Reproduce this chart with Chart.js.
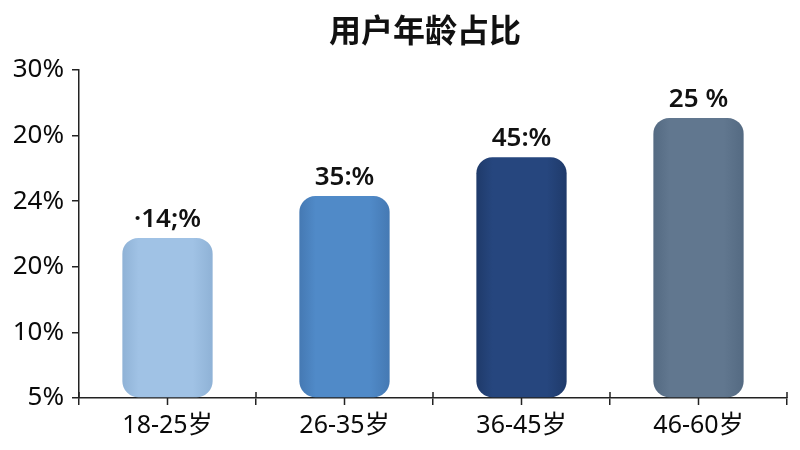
<!DOCTYPE html>
<html lang="zh">
<head>
    <meta charset="UTF-8">
    <title>用户年龄占比</title>
    <script src="https://cdn.jsdelivr.net/npm/chart.js@4/dist/chart.umd.min.js"></script>
    <style>
        html, body {margin: 0; padding: 0; background: #fff}
        #wrap {width: 800px; height: 450px}
    </style>
</head>
<body>
<div id="wrap"><canvas id="chart"></canvas></div>
<script>
    // data (bar heights in axis steps, labels as printed)
    const categories = ['18-25岁', '26-35岁', '36-45岁', '46-60岁'];
    const barHeights = [2.44, 3.08, 3.67, 4.27];
    const barLabels = ['·14;%', '35:%', '45:%', '25 %'];
    const yTickLabels = ['5%', '10%', '20%', '24%', '20%', '30%'];
    const barColors = ['#a0c2e5', '#508ac8', '#26467e', '#61778f'];
    const barEdges = ['#8fb2d6', '#4579b3', '#1f3a6a', '#546a82'];

    const FONT = '"Noto Sans", "Noto Sans CJK SC", sans-serif';
    const AXIS = '#222';

    function barFill(ctx) {
        const chart = ctx.chart;
        const i = ctx.dataIndex;
        if (!chart.chartArea || i === undefined) return barColors[i || 0];
        const x = chart.scales.x;
        const cx = x.getPixelForValue(i);
        const half = (x.right - x.left) / categories.length * 0.51 / 2;
        const g = chart.ctx.createLinearGradient(cx - half, 0, cx + half, 0);
        g.addColorStop(0, barEdges[i]);
        g.addColorStop(0.18, barColors[i]);
        g.addColorStop(0.78, barColors[i]);
        g.addColorStop(1, barEdges[i]);
        return g;
    }

    // title, centred a little right of the canvas middle
    const titlePlugin = {
        id: 'titleText',
        afterDraw(chart) {
            const c = chart.ctx;
            c.save();
            c.font = '600 32px "Noto Sans CJK SC", sans-serif';
            c.fillStyle = '#111';
            c.textAlign = 'center';
            c.textBaseline = 'middle';
            c.fillText('用户年龄占比', 425, 30);
            c.restore();
        }
    };

    // extra tick marks on the x axis: boundaries poke up, centres poke down
    const axisTicks = {
        id: 'axisTicks',
        afterDraw(chart) {
            const x = chart.scales.x;
            const c = chart.ctx;
            const w = (x.right - x.left) / categories.length;
            c.save();
            c.strokeStyle = AXIS;
            c.lineWidth = 1.5;
            c.beginPath();
            for (let k = 0; k <= categories.length; k++) {
                const px = x.left + k * w;
                c.moveTo(px, x.top - 6);
                c.lineTo(px, x.top);
            }
            categories.forEach((_, i) => {
                const px = x.getPixelForValue(i);
                c.moveTo(px, x.top);
                c.lineTo(px, x.top + 7);
            });
            c.stroke();
            c.restore();
        }
    };

    const valueLabels = {
        id: 'valueLabels',
        afterDatasetsDraw(chart) {
            const c = chart.ctx;
            const meta = chart.getDatasetMeta(0);
            c.save();
            c.font = '600 26px ' + FONT;
            c.fillStyle = '#111';
            c.textAlign = 'center';
            c.textBaseline = 'alphabetic';
            meta.data.forEach((bar, i) => {
                c.fillText(barLabels[i], bar.x, bar.y - 11);
            });
            c.restore();
        }
    };

    new Chart('chart', {
        type: 'bar',
        data: {
            labels: categories,
            datasets: [{
                data: barHeights,
                backgroundColor: barFill,
                borderRadius: 16,
                borderSkipped: false,
                barPercentage: 0.51,
                categoryPercentage: 1
            }]
        },
        options: {
            responsive: true,
            maintainAspectRatio: false,
            animation: false,
            layout: {padding: {top: 70, right: 13, left: 0, bottom: 0}},
            plugins: {
                legend: {display: false},
                title: {display: false},
                tooltip: {enabled: false}
            },
            scales: {
                x: {
                    offset: true,
                    grid: {display: true, offset: true, drawOnChartArea: false, tickLength: 7, color: AXIS, lineWidth: 1.5},
                    border: {display: true, color: AXIS, width: 1.5},
                    ticks: {color: '#0a0a0a', font: {family: FONT, size: 25}, padding: 6},
                    afterFit(s) { s.height = 52; }
                },
                y: {
                    min: 0,
                    max: 5,
                    grid: {display: true, drawOnChartArea: false, tickLength: 7, color: AXIS, lineWidth: 1.5},
                    border: {display: true, color: AXIS, width: 1.5},
                    ticks: {
                        stepSize: 1,
                        color: '#0a0a0a',
                        font: {family: FONT, size: 26},
                        padding: 8,
                        callback: v => yTickLabels[v]
                    },
                    afterFit(s) { s.width = 79; }
                }
            }
        },
        plugins: [titlePlugin, axisTicks, valueLabels]
    });
</script>
</body>
</html>
